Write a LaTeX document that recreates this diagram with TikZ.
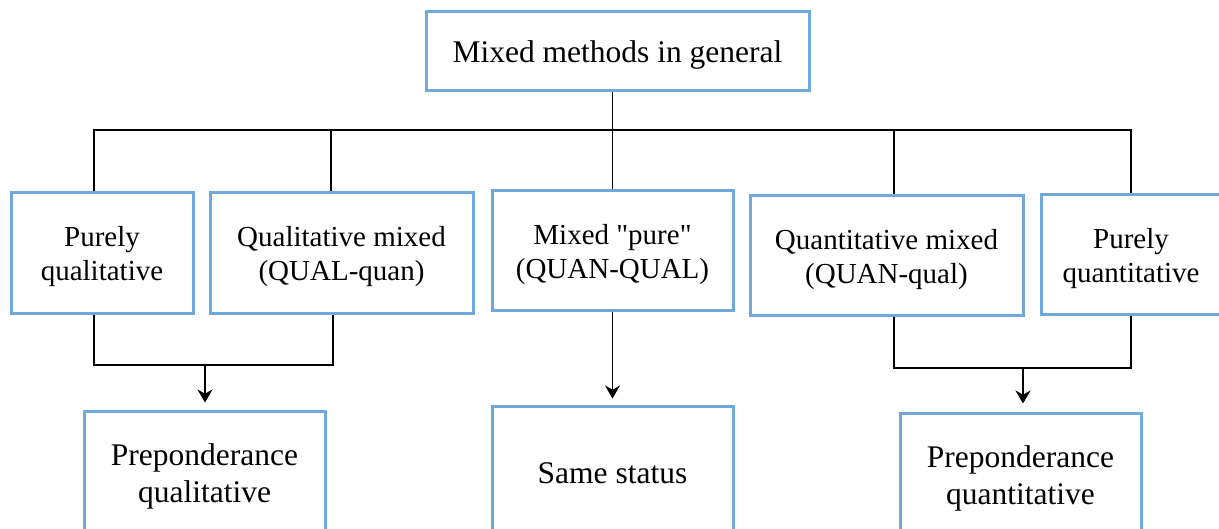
\documentclass[tikz,border=0pt]{standalone}
\usepackage{fontspec}
\setmainfont{Liberation Serif}
\usetikzlibrary{arrows.meta}
\definecolor{boxblue}{HTML}{6FA8DC}
\tikzset{
  box/.style={draw=boxblue, line width=1.5pt, fill=white, inner sep=0pt},
  midtext/.style={font=\fontsize{14.5}{17}\selectfont, align=center, inner sep=0pt, yshift=-2pt},
  bigtext/.style={font=\fontsize{15.75}{18.5}\selectfont, align=center, inner sep=0pt, yshift=-1.8pt},
  conn/.style={draw=black, line width=0.9pt},
  arr/.style={conn, -{Stealth[length=6.5pt,width=7.5pt]}}
}
\begin{document}
\begin{tikzpicture}[x=0.5pt,y=-0.5pt]
\clip (0,0) rectangle (1219,529);
\fill[white] (0,0) rectangle (1219,529);
% nodes
\node[box,minimum width=191.5pt,minimum height=39.5pt,
  label={[bigtext]center:Mixed methods in general}] (top) at (617.5,51.5) {};
\node[box,minimum width=91pt,minimum height=60pt,
  label={[midtext]center:Purely\\qualitative}] (b1) at (102,253) {};
\node[box,minimum width=131.5pt,minimum height=60pt,
  label={[midtext]center:Qualitative mixed\\(QUAL-quan)}] (b2) at (341.5,253) {};
\node[box,minimum width=120.5pt,minimum height=59.5pt,
  label={[midtext]center:Mixed \textquotedbl pure\textquotedbl\\(QUAN-QUAL)}] (b3) at (612.5,250.5) {};
\node[box,minimum width=136.5pt,minimum height=59.5pt,
  label={[midtext]center:Quantitative mixed\\(QUAN-qual)}] (b4) at (886.5,255.5) {};
\node[box,minimum width=90pt,minimum height=59.5pt,
  label={[midtext]center:Purely\\quantitative}] (b5) at (1131,254.5) {};
\node[box,minimum width=120.5pt,minimum height=62pt,
  label={[bigtext,yshift=0.3pt]center:Preponderance\\qualitative}] (p1) at (204.5,473) {};
\node[box,minimum width=120.5pt,minimum height=67pt,
  label={[bigtext,yshift=1.8pt]center:Same status}] (s) at (612.5,473) {};
\node[box,minimum width=120.5pt,minimum height=62pt,
  label={[bigtext,yshift=0.3pt]center:Preponderance\\quantitative}] (p2) at (1020.5,475) {};
% bus coordinates
\coordinate (busL) at (93,130);
\coordinate (busR) at (1132,130);
\coordinate (d1) at (94,130);
\coordinate (d2) at (331,130);
\coordinate (d4) at (894,130);
\coordinate (d5) at (1131,130);
\coordinate (jl) at (205,365);
\coordinate (jr) at (1023,368);
% top connectors
\draw[conn] (b3.north |- top.south) -- (b3.north);
\draw[conn] (busL) -- (busR);
\draw[conn] (d1) -- (d1 |- b1.north);
\draw[conn] (d2) -- (d2 |- b2.north);
\draw[conn] (d4) -- (d4 |- b4.north);
\draw[conn] (d5) -- (d5 |- b5.north);
% bottom left
\draw[conn] (d1 |- b1.south) -- (d1 |- jl) -- (333,365) -- (333,0 |- b2.south);
\draw[arr, shorten >=3.5pt] (jl) -- (jl |- p1.north);
% middle
\draw[arr, shorten >=3pt] (b3.south) -- (s.north);
% bottom right
\draw[conn] (d4 |- b4.south) -- (d4 |- jr) -- (d5 |- jr) -- (d5 |- b5.south);
\draw[arr, shorten >=4pt] (jr) -- (jr |- p2.north);
\end{tikzpicture}
\end{document}
